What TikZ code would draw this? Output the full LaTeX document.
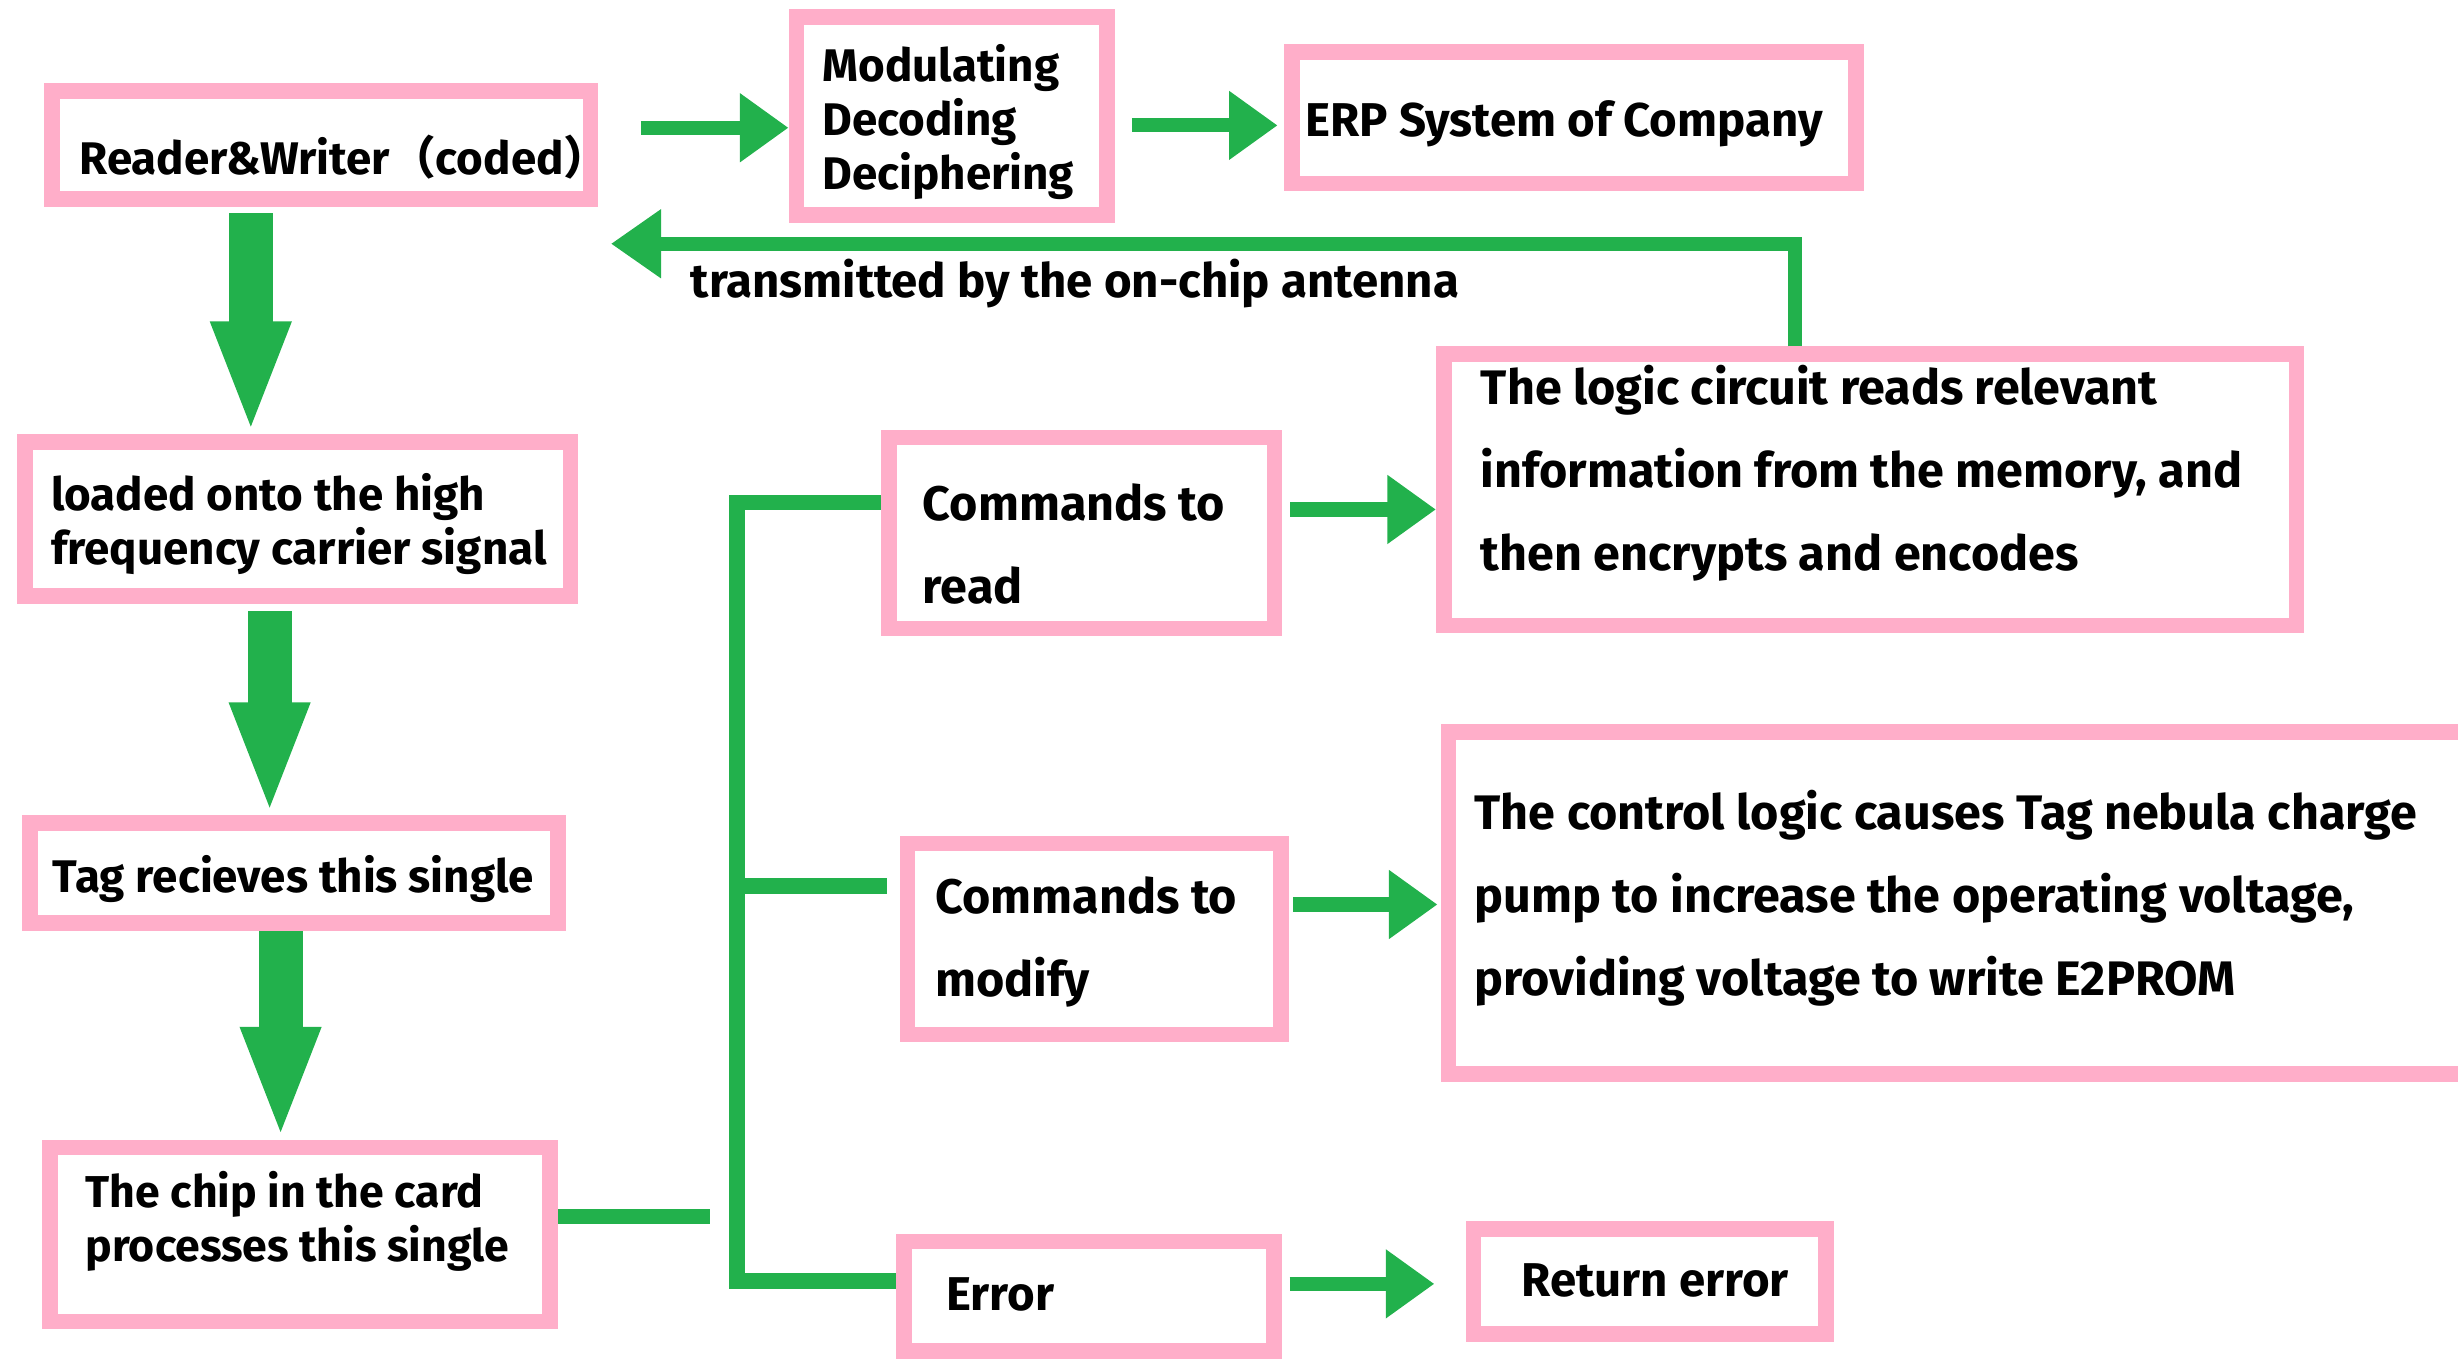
\documentclass[tikz,border=0pt]{standalone}
\usepackage{fontspec}
\setmainfont{Fira Sans}
\newfontfamily\cjk{Noto Sans CJK SC}
\usepackage{tikz}
\usetikzlibrary{arrows.meta, positioning}
\definecolor{paintgreen}{HTML}{22B14C}
\definecolor{paintpink}{HTML}{FFAEC9}

\tikzset{
  box/.style={draw=paintpink, line width=1mm, fill=white, inner sep=0pt},
  txt/.style={anchor=west, align=left, inner sep=0pt, font=\bfseries\fontsize{8.3}{9.8}\selectfont},
  onetxt/.style={txt, font=\bfseries\fontsize{8.6}{10}\selectfont},
  widetxt/.style={txt, font=\bfseries\fontsize{8.8}{15.1}\selectfont},
  flow/.style={draw=paintgreen, line width=0.9mm, -{Triangle[length=3.1mm, width=4.2mm]}},
  bigflow/.style={draw=paintgreen, line width=2.8mm, -{Triangle[length=7.2mm, width=4.6mm]}},
  link/.style={draw=paintgreen, line width=1mm},
}

\begin{document}
\begin{tikzpicture}[x=0.1mm, y=-0.1mm]
\useasboundingbox (0,0) rectangle (1568,868);
\clip (0,0) rectangle (1568,868);

% boxes
\node[box, minimum width=34.35mm, minimum height=6.9mm] (reader) at (205,92.5) {};
\node[box, minimum width=19.8mm, minimum height=12.6mm] (mod) at (607,74) {};
\node[box, minimum width=36mm, minimum height=8.4mm] (erp) at (1004,75) {};
\node[box, minimum width=54.4mm, minimum height=17.3mm] (logic) at (1193,312.5) {};
\node[box, minimum width=24.6mm, minimum height=12.2mm] (read) at (690,340) {};
\node[box, minimum width=34.8mm, minimum height=9.8mm] (loaded) at (190,331) {};
\node[box, minimum width=33.7mm, minimum height=6.4mm] (tag) at (187.5,557) {};
\node[box, minimum width=31.9mm, minimum height=11.1mm] (chip) at (191.5,787.5) {};
\node[box, minimum width=23.8mm, minimum height=12.2mm] (modify) at (698,599) {};
\node[box, minimum width=23.6mm, minimum height=7mm] (error) at (694.7,827) {};
\node[box, minimum width=67.6mm, minimum height=21.8mm] (control) at (1262,576) {};
\node[box, minimum width=22.5mm, minimum height=6.7mm] (reterr) at (1052.5,817.5) {};

% texts
\node[txt] (readertxt) at (50,100) {Reader\&Writer{\cjk（}coded{\cjk）}};
\node[txt] (modtxt) at (524,78) {Modulating\\Decoding\\Deciphering};
\node[onetxt] (erptxt) at (832,79) {ERP System of Company};
\node[widetxt] (logictxt) at (944,302) {The logic circuit reads relevant\\information from the memory, and\\then encrypts and encodes};
\node[widetxt] (readtxt) at (588,347) {Commands to\\read};
\node[txt] (loadedtxt) at (32,334) {loaded onto the high\\frequency carrier signal};
\node[txt] (tagtxt) at (33,561) {Tag recieves this single};
\node[txt, font=\bfseries\fontsize{8.1}{9.8}\selectfont] (chiptxt) at (54,779) {The chip in the card\\processes this single};
\node[widetxt] (modifytxt) at (596,601) {Commands to\\modify};
\node[widetxt] (controltxt) at (940,573) {The control logic causes Tag nebula charge\\pump to increase the operating voltage,\\providing voltage to write E2PROM};
\node[onetxt] (errortxt) at (603,826) {Error};
\node[onetxt] (reterrtxt) at (970,817) {Return error};
\node[onetxt] (antennatxt) at (440,181) {transmitted by the on-chip antenna};

% main flow
\draw[bigflow, shorten <=0.4mm] ([xshift=-4.5mm]reader.south) -- ([xshift=-4.5mm]reader.south |- loaded.north);
\draw[bigflow, shorten <=0.5mm] ([xshift=-1.8mm]loaded.south) -- ([xshift=-1.8mm]loaded.south |- tag.north);
\draw[bigflow] ([xshift=-0.85mm]tag.south) -- ([xshift=-0.85mm]tag.south |- chip.north);
\draw[flow, shorten <=2.7mm] ([yshift=-0.75mm]mod.west -| reader.east) -- ([yshift=-0.75mm]mod.west);
\draw[flow, shorten <=1.1mm, shorten >=0.4mm] ([yshift=-0.5mm]erp.west -| mod.east) -- ([yshift=-0.5mm]erp.west);

% back to the reader
\coordinate (bend) at (1145,155.5);
\draw[flow, -{Triangle[length=3.2mm, width=4.2mm]}, shorten >=0.8mm] (logic.north -| bend) -- (bend) -- (bend -| reader.east);

% branches
\coordinate (busbot) at (470,817);
\draw[link, shorten >=1.7mm] ([yshift=1.15mm]chip.east) -- ([yshift=1.15mm]chip.east -| busbot);
\draw[link] ([yshift=1.95mm]read.west) -| (busbot) -- (busbot -| error.west);
\draw[link, shorten >=0.8mm] ([yshift=3.4mm]modify.west -| busbot) -- ([yshift=3.4mm]modify.west);

\draw[flow, shorten <=0.5mm] ([yshift=1.5mm]read.east) -- ([yshift=1.5mm]read.east -| logic.west);
\draw[flow, shorten <=0.3mm, shorten >=0.2mm] ([yshift=2.2mm]modify.east) -- ([yshift=2.2mm]modify.east -| control.west);
\draw[flow, shorten <=0.5mm, shorten >=2mm] ([yshift=0.8mm]error.east) -- ([yshift=0.8mm]error.east -| reterr.west);
\end{tikzpicture}
\end{document}
